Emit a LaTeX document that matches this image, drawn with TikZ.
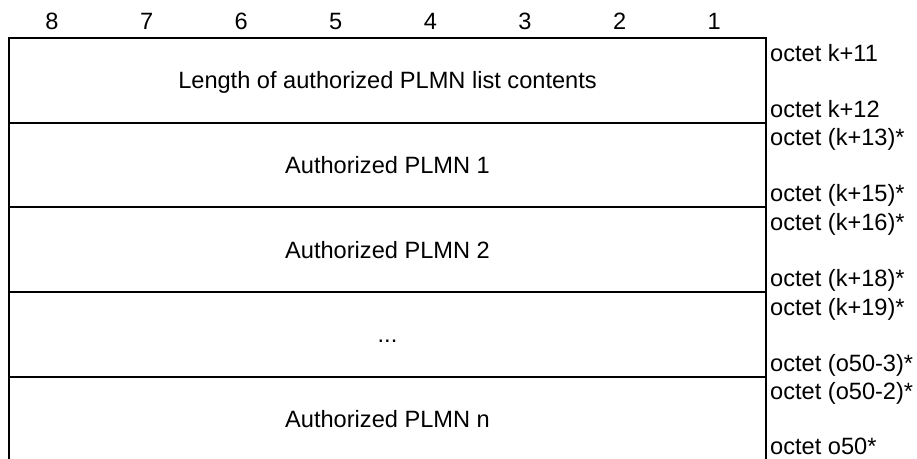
\documentclass[tikz,border=0pt]{standalone}
\usepackage{fontspec}
\setmainfont{Liberation Sans}
\begin{document}
\begin{tikzpicture}[x=1pt,y=-1pt,
  frame/.style={line width=2pt,line cap=rect},
  txt/.style={inner sep=0pt,font=\fontsize{23.6}{28}\selectfont},
  bitnum/.style={txt,anchor=base},
  content/.style={txt,anchor=base},
  octlabel/.style={txt,anchor=base west}]
\useasboundingbox (0,0) rectangle (917,458);
% bit numbers
\foreach \n [count=\i from 0] in {8,7,6,5,4,3,2,1}
  \node[bitnum] (bit\n) at ({52+94.6*\i},29) {\n};
% frame
\coordinate (tl) at (9,38);
\coordinate (tr) at (766,38);
\coordinate (bl) at (9,458);
\coordinate (br) at (766,458);
\draw[frame] (bl) -- (tl) -- (tr) -- (br);
\foreach \r in {1,2,3,4}{
  \coordinate (l\r) at (9,{38+84.7*\r});
  \coordinate (r\r) at (766,{38+84.7*\r});
  \draw[frame] (l\r) -- (r\r);
}
% contents
\node[content] (c0) at (387.5,{38+84.7*0+42.35+8.5}) {Length of authorized PLMN list contents};
\node[content] (c1) at (387.5,{38+84.7*1+42.35+8.5}) {Authorized PLMN 1};
\node[content] (c2) at (387.5,{38+84.7*2+42.35+8.5}) {Authorized PLMN 2};
\node[content] (c3) at (387.5,{38+84.7*3+42.35+8.5}) {...};
\node[content] (c4) at (387.5,{38+84.7*4+42.35+8.5}) {Authorized PLMN n};
% octet labels
\node[octlabel] (o0a) at (770,{38+84.7*0+23}) {octet k+11};
\node[octlabel] (o0b) at (770,{38+84.7*0+79}) {octet k+12};
\node[octlabel] (o1a) at (770,{38+84.7*1+23}) {octet (k+13)*};
\node[octlabel] (o1b) at (770,{38+84.7*1+79}) {octet (k+15)*};
\node[octlabel] (o2a) at (770,{38+84.7*2+23}) {octet (k+16)*};
\node[octlabel] (o2b) at (770,{38+84.7*2+79}) {octet (k+18)*};
\node[octlabel] (o3a) at (770,{38+84.7*3+23}) {octet (k+19)*};
\node[octlabel] (o3b) at (770,{38+84.7*3+79}) {octet (o50-3)*};
\node[octlabel] (o4a) at (770,{38+84.7*4+23}) {octet (o50-2)*};
\node[octlabel] (o4b) at (770,454) {octet o50*};
\end{tikzpicture}
\end{document}
